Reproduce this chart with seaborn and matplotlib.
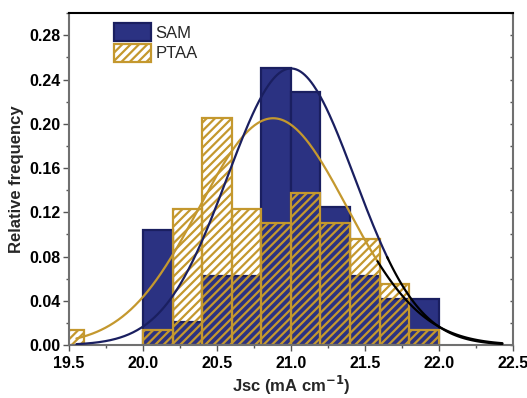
import numpy as np
import pandas as pd
import matplotlib
matplotlib.use("Agg")
import matplotlib.pyplot as plt
from matplotlib.patches import Patch
from matplotlib.ticker import MultipleLocator
import seaborn as sns

# ---- data ----
bin_edges = [19.4, 19.6, 19.8, 20.0, 20.2, 20.4, 20.6, 20.8, 21.0, 21.2, 21.4, 21.6, 21.8, 22.0]
bin_centers = [19.5, 19.7, 19.9, 20.1, 20.3, 20.5, 20.7, 20.9, 21.1, 21.3, 21.5, 21.7, 21.9]
sam_freq = [0.0, 0.0, 0.0, 0.104, 0.021, 0.0625, 0.0625, 0.25, 0.229, 0.125, 0.0625, 0.042, 0.042]
ptaa_freq = [0.0137, 0.0, 0.0, 0.0137, 0.123, 0.205, 0.123, 0.110, 0.137, 0.110, 0.096, 0.055, 0.0137]

# normal-fit parameters (mean, sigma, peak height)
sam_fit = (21.0, 0.43, 0.25)
ptaa_fit = (20.88, 0.50, 0.205)
fit_range = (19.55, 22.43)

NAVY = "#2B3282"
NAVY_EDGE = "#1A1F60"
GOLD = "#C4982E"

sns.set_theme(style="white")
plt.rcParams["font.family"] = ["Liberation Sans", "DejaVu Sans"]
plt.rcParams["hatch.color"] = GOLD
plt.rcParams["hatch.linewidth"] = 1.6

fig = plt.figure(figsize=(5.27, 3.98), dpi=100)
ax = fig.add_axes([0.131, 0.133, 0.842, 0.834])

df = pd.DataFrame({"x": bin_centers, "sam": sam_freq, "ptaa": ptaa_freq})

n0 = len(ax.patches)
sns.histplot(data=df, x="x", weights="sam", bins=bin_edges, ax=ax,
             color=NAVY, alpha=1, linewidth=0)
for p in ax.patches[n0:]:
    p.set_facecolor(NAVY)
    p.set_edgecolor(NAVY_EDGE)
    p.set_linewidth(1.6)
    if p.get_height() == 0:
        p.set_visible(False)

n1 = len(ax.patches)
sns.histplot(data=df, x="x", weights="ptaa", bins=bin_edges, ax=ax,
             color=GOLD, alpha=1, linewidth=0)
for p in ax.patches[n1:]:
    p.set_facecolor("none")
    p.set_edgecolor(GOLD)
    p.set_linewidth(1.6)
    p.set_hatch("////")
    if p.get_height() == 0:
        p.set_visible(False)

# fitted normal curves
xs = np.linspace(fit_range[0], fit_range[1], 400)

def gauss(x, params):
    m, s, h = params
    return h * np.exp(-(x - m) ** 2 / (2 * s ** 2))

for params, col, cut in [(ptaa_fit, GOLD, 21.59), (sam_fit, NAVY_EDGE, 21.66)]:
    yv = gauss(xs, params)
    m1 = xs <= cut
    m2 = xs >= cut - 0.01
    sns.lineplot(x=xs[m1], y=yv[m1], ax=ax, color=col, lw=1.6, zorder=5)
    sns.lineplot(x=xs[m2], y=yv[m2], ax=ax, color="black", lw=1.6, zorder=5)

ax.set_xlim(19.5, 22.5)
ax.set_ylim(0, 0.30)
ax.xaxis.set_minor_locator(MultipleLocator(0.25))
ax.yaxis.set_minor_locator(MultipleLocator(0.02))
ax.set_xticks([19.5, 20.0, 20.5, 21.0, 21.5, 22.0, 22.5])
ax.set_xticklabels(["19.5", "20.0", "20.5", "21.0", "21.5", "22.0", "22.5"])
ax.set_yticks([0.0, 0.04, 0.08, 0.12, 0.16, 0.20, 0.24, 0.28])
ax.set_yticklabels(["0.00", "0.04", "0.08", "0.12", "0.16", "0.20", "0.24", "0.28"])

ax.tick_params(axis="both", which="major", direction="out", length=4, width=1,
               colors="#555555", labelcolor="black", labelsize=11.5,
               bottom=True, left=True)
ax.tick_params(axis="x", which="major", pad=4)
ax.tick_params(axis="y", which="major", pad=2)
ax.tick_params(axis="both", which="minor", direction="out", length=2.5, width=1,
               colors="#555555", bottom=True, left=True)
for lab in ax.get_xticklabels() + ax.get_yticklabels():
    lab.set_fontweight("bold")

for side in ["left", "bottom", "right"]:
    ax.spines[side].set_color("#707070")
    ax.spines[side].set_linewidth(1.5)
ax.spines["top"].set_color("black")
ax.spines["top"].set_linewidth(1.5)

# right side inward ticks
axr = ax.secondary_yaxis("right")
axr.yaxis.set_major_locator(MultipleLocator(0.02))
axr.tick_params(direction="in", length=2.5, width=1, colors="#555555", labelright=False)
axr.spines["right"].set_visible(False)

ax.set_xlabel("Jsc (mA cm$^{\\mathbf{-1}}$)", fontsize=12, fontweight="bold")
ax.xaxis.set_label_coords(0.5, -0.088)
ax.set_ylabel("Relative frequency", fontsize=12, fontweight="bold", labelpad=4)

handles = [Patch(facecolor=NAVY, edgecolor=NAVY_EDGE, linewidth=1.6, label="SAM"),
           Patch(facecolor="none", edgecolor=GOLD, hatch="////", linewidth=1.6, label="PTAA")]
ax.legend(handles=handles, loc="upper left", bbox_to_anchor=(0.086, 0.99),
          frameon=False, fontsize=12, handlelength=2.2, handleheight=1.3,
          handletextpad=0.3, labelspacing=0.15, borderaxespad=0)

fig.savefig("out.png", dpi=100)
